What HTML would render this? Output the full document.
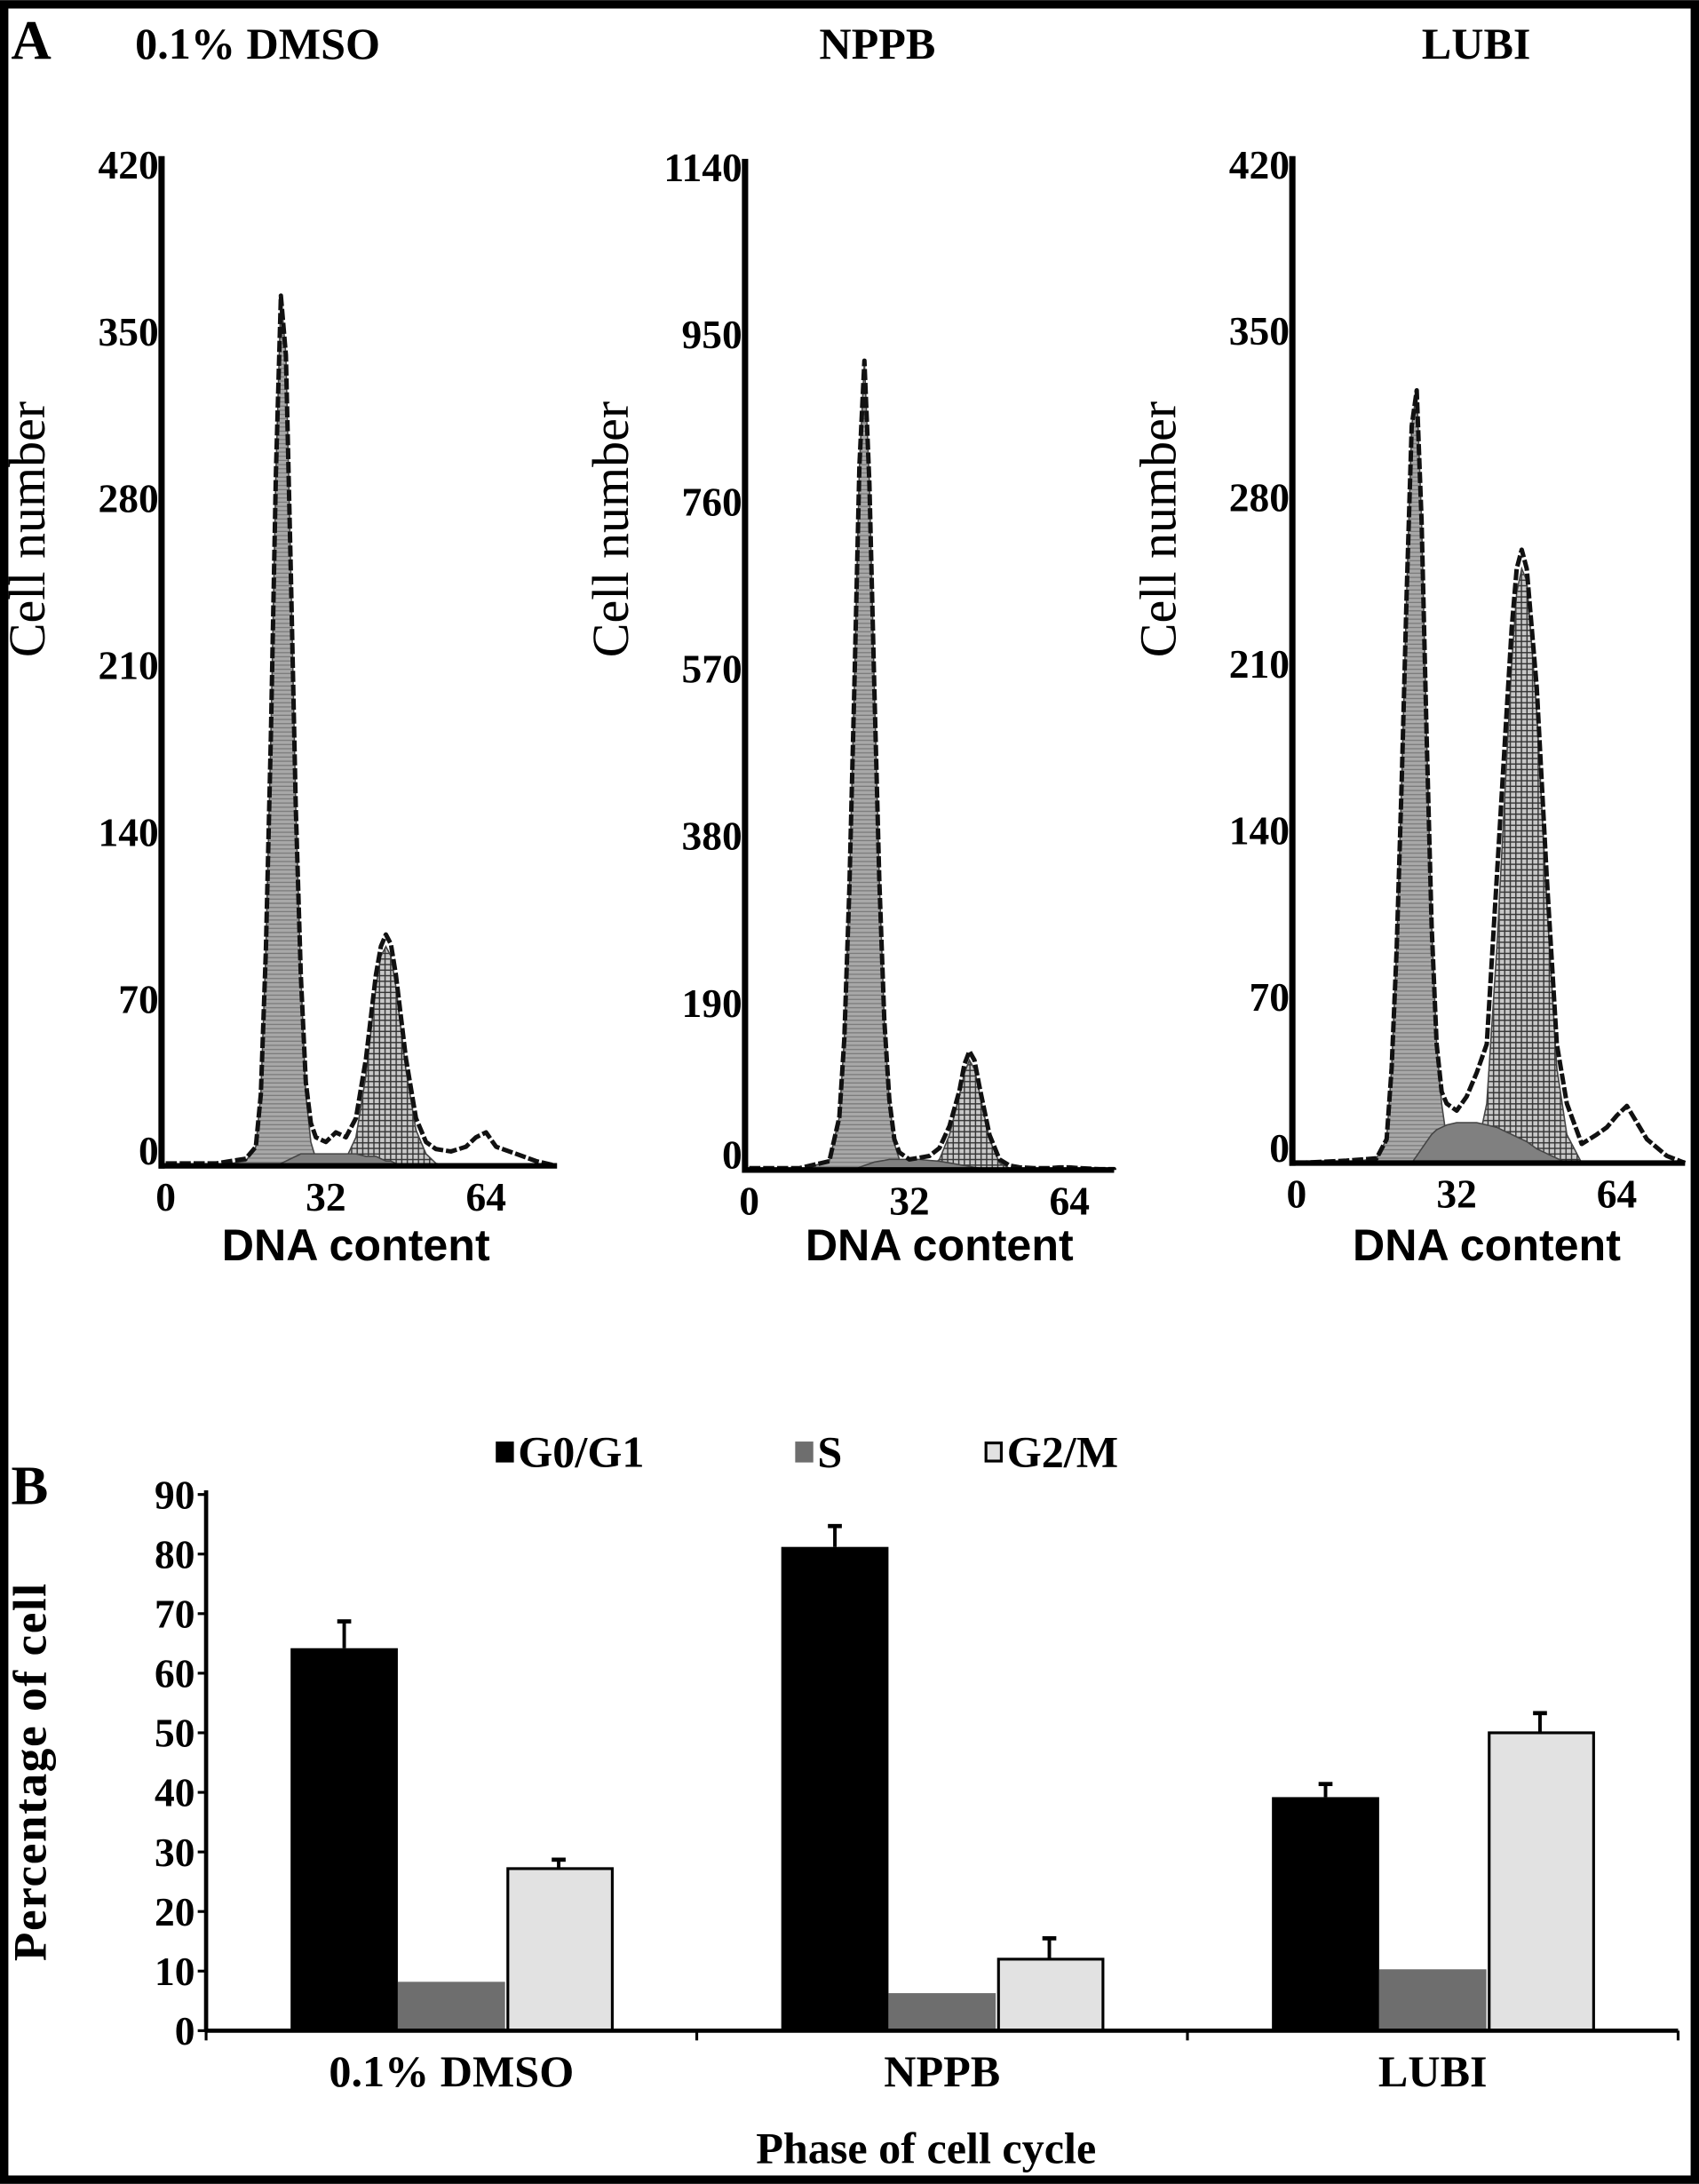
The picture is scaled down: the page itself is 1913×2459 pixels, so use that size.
<!DOCTYPE html>
<html><head><meta charset="utf-8"><style>
html,body{margin:0;padding:0;background:#fff;}
svg{display:block;font-family:"Liberation Serif",serif;}
</style></head><body>
<svg id="fig" width="1913" height="2459" viewBox="0 0 1220 1568" xmlns="http://www.w3.org/2000/svg">
<defs>
<pattern id="g1pat" width="4" height="3" patternUnits="userSpaceOnUse"><rect width="4" height="3" fill="#a8a8a8"/><line x1="0" y1="0.5" x2="4" y2="0.5" stroke="#7a7a7a" stroke-width="0.8"/></pattern>
<pattern id="g2pat" width="4" height="4" patternUnits="userSpaceOnUse"><rect width="4" height="4" fill="#c8c8c8"/><line x1="0" y1="0.5" x2="4" y2="0.5" stroke="#333" stroke-width="0.9"/><line x1="0.5" y1="0" x2="0.5" y2="4" stroke="#333" stroke-width="0.9"/></pattern>
</defs>
<rect x="3" y="3" width="1214" height="1562" fill="#fff" stroke="#000" stroke-width="6"/>
<text x="8" y="42" font-size="40" font-weight="bold">A</text>
<text x="8" y="1080" font-size="40" font-weight="bold">B</text>
<g id="histos"></g>
<g id="bars"></g>
</svg>
<script>
const NS="http://www.w3.org/2000/svg";
// ---- Panel A data ----
const dnaX=[0,10,16,18,19,20,21,22,23,24,25,26,27,28,29,30,32,34,36,38,40,42,43,44,45,46,48,50,52,54,57,60,62,64,66,70,74,78];
const histTitles=["0.1% DMSO","NPPB","LUBI"];
const yMaxes=[420,1140,420];
const yTicks0=[0,70,140,210,280,350,420];
const yTicks1=[0,190,380,570,760,950,1140];
const yTicks2=[0,70,140,210,280,350,420];
const xTicks=[0,32,64];
const dmsoTotal=[1,1,3,8,30,90,180,290,365,340,250,150,80,35,18,12,10,14,12,20,45,80,92,97,93,80,45,20,10,7,6,8,12,14,8,5,2,0];
const dmsoG1=[0,0,2,8,30,90,180,290,365,340,250,150,80,30,10,3,0,0,0,0,0,0,0,0,0,0,0,0,0,0,0,0,0,0,0,0,0,0];
const dmsoS=[0,0,0,0,0,0,0,0,1,2,3,4,5,5,5,5,5,5,5,5,4,4,3,2,2,1,0,0,0,0,0,0,0,0,0,0,0,0];
const dmsoG2=[0,0,0,0,0,0,0,0,0,0,0,0,0,0,0,0,0,0,3,12,38,75,88,92,88,75,40,15,5,1,0,0,0,0,0,0,0,0];
const nppbTotal=[2,2,10,60,150,320,550,800,920,780,550,330,170,80,35,20,12,14,16,25,50,90,120,135,125,95,40,12,5,3,2,2,3,3,2,1,1,0];
const nppbG1=[0,0,10,60,150,320,550,800,920,780,550,330,170,78,30,12,0,0,0,0,0,0,0,0,0,0,0,0,0,0,0,0,0,0,0,0,0,0];
const nppbS=[0,0,0,0,0,0,0,3,5,7,9,10,11,12,12,12,12,12,11,10,8,6,5,4,3,2,1,0,0,0,0,0,0,0,0,0,0,0];
const nppbG2=[0,0,0,0,0,0,0,0,0,0,0,0,0,0,0,0,0,0,2,12,40,85,110,125,115,88,35,8,2,0,0,0,0,0,0,0,0,0];
const lubiTotal=[0,1,2,10,40,90,160,240,310,325,270,180,100,50,30,25,22,28,38,50,120,190,225,250,258,250,200,120,50,25,8,12,15,20,24,10,3,0];
const lubiG1=[0,0,2,10,40,90,160,240,310,325,270,180,100,50,25,10,3,0,0,0,0,0,0,0,0,0,0,0,0,0,0,0,0,0,0,0,0,0];
const lubiS=[0,0,0,0,0,0,0,0,0,3,6,9,12,14,15,16,17,17,17,16,15,13,12,11,10,9,6,4,2,0,0,0,0,0,0,0,0,0];
const lubiG2=[0,0,0,0,0,0,0,0,0,0,0,0,0,0,0,0,0,0,5,25,90,170,210,240,250,245,190,110,40,12,0,0,0,0,0,0,0,0];

const panels=[
 {ax:116,base:837,top:118,titleX:185,tick:yTicks0,tot:dmsoTotal,g1:dmsoG1,s:dmsoS,g2:dmsoG2,xEnd:400},
 {ax:535,base:840,top:120,titleX:630,tick:yTicks1,tot:nppbTotal,g1:nppbG1,s:nppbS,g2:nppbG2,xEnd:800},
 {ax:928,base:835,top:118,titleX:1060,tick:yTicks2,tot:lubiTotal,g1:lubiG1,s:lubiS,g2:lubiG2,xEnd:1210}
];
function mk(tag,attrs,parent,txt){const e=document.createElementNS(NS,tag);for(const k in attrs)e.setAttribute(k,attrs[k]);if(txt!==undefined)e.textContent=txt;parent.appendChild(e);return e;}
const H=document.getElementById('histos');
panels.forEach((p,i)=>{
 const g=mk('g',{},H);
 
 
 const x0=p.ax+3, xs=115/32;
 const X=u=>Math.min(x0+u*xs,p.xEnd);
 const Y=v=>p.base-(v/yMaxes[i])*(p.base-p.top);
 const t=mk('text',{x:p.titleX,y:42,'font-size':32,'font-weight':'bold','text-anchor':'middle'},g,histTitles[i]);
 
 
 function area(arr,fill,name){
  let d='M'+X(dnaX[0])+','+p.base;
  arr.forEach((v,k)=>{d+=' L'+X(dnaX[k]).toFixed(1)+','+Y(v).toFixed(1);});
  d+=' L'+X(dnaX[dnaX.length-1])+','+p.base+' Z';
  const e=mk('path',{d:d,fill:fill,stroke:'#444','stroke-width':1},g);
  
  
 }
 area(p.g1,'url(#g1pat)','g0-g1-fill');
 area(p.g2,'url(#g2pat)','g2-m-fill');
 area(p.s,'#808080','s-phase-fill');
 let d='';
 p.tot.forEach((v,k)=>{d+=(k?' L':'M')+X(dnaX[k]).toFixed(1)+','+Y(v).toFixed(1);});
 const c=mk('path',{d:d,fill:'none',stroke:'#111','stroke-width':3.2,'stroke-dasharray':'8 2','stroke-linejoin':'round'},g);
 
 
 const ya=mk('line',{x1:p.ax,y1:p.top-6,x2:p.ax,y2:p.base+2,stroke:'#000','stroke-width':4.5},g);
 
 
 const xa=mk('line',{x1:p.ax-2,y1:p.base,x2:p.xEnd,y2:p.base,stroke:'#000','stroke-width':4},g);
 
 
 p.tick.forEach(v=>{
  const ty=(v===0)?p.base-11:Y(v);
  const tl=mk('text',{x:p.ax-2,y:ty+10,'font-size':29,'font-weight':'bold','text-anchor':'end'},g,String(v));
  
  
 });
 xTicks.forEach(u=>{
  const tl=mk('text',{x:X(u),y:p.base+32,'font-size':29,'font-weight':'bold','text-anchor':'middle'},g,String(u));
  
  
 });
 const xt=mk('text',{x:X(38),y:905,'font-size':32,'font-weight':'bold','text-anchor':'middle','font-family':'Liberation Sans, sans-serif'},g,'DNA content');
 
 
 const cx=p.ax-84, cy=380;
 const yt=mk('text',{x:cx,y:cy,'font-size':37,'text-anchor':'middle',transform:'rotate(-90 '+cx+' '+cy+')','font-family':'Liberation Serif, serif'},g,'Cell number');
 
 
});

// ---- Panel B data ----
const groups=["0.1% DMSO","NPPB","LUBI"];
const phases=["G0/G1","S","G2/M"];
const g1Vals=[64.2,81.2,39.2];
const sVals=[8.2,6.3,10.3];
const g2Vals=[27.2,12.0,50.0];
const g1Err=[4.5,3.5,2.2];
const sErr=[0,0,0];
const g2Err=[1.5,3.5,3.3];
const barTicks=[0,10,20,30,40,50,60,70,80,90];
const B=document.getElementById('bars');
const bx0=148,bx1=1205,bBase=1458,bTop=1073;
const BY=v=>bBase-v/90*(bBase-bTop);
const groupW=(bx1-bx0)/3, bw=77;
const series=[{v:g1Vals,e:g1Err,fill:'#000',stroke:'#000',name:'bar-g0-g1'},{v:sVals,e:sErr,fill:'#6e6e6e',stroke:'#6e6e6e',name:'bar-s'},{v:g2Vals,e:g2Err,fill:'#e2e2e2',stroke:'#000',name:'bar-g2-m'}];
series.forEach((s,si)=>{
 s.v.forEach((v,gi)=>{
  const cx=bx0+groupW*(gi+0.5);
  const x=cx-1.5*bw+si*bw;
  const r=mk('rect',{x:x+(si===2?2:0),y:BY(v),width:bw-(si===2?2:0),height:bBase-BY(v),fill:s.fill,stroke:s.stroke,'stroke-width':si===2?2:0},B);
  
  
  if(s.e[gi]>0){
   const mx=x+bw/2;
   const el=mk('line',{x1:mx,y1:BY(v),x2:mx,y2:BY(v+s.e[gi]),stroke:'#000','stroke-width':2.5},B);
   
   
   const ec=mk('line',{x1:mx-5,y1:BY(v+s.e[gi]),x2:mx+5,y2:BY(v+s.e[gi]),stroke:'#000','stroke-width':3},B);
   
   
  }
 });
});
const bya=mk('line',{x1:bx0,y1:bTop-3,x2:bx0,y2:bBase+1,stroke:'#000','stroke-width':3},B);


const bxa=mk('line',{x1:bx0,y1:bBase,x2:bx1,y2:bBase,stroke:'#000','stroke-width':3},B);


[0,1,2,3].forEach(k=>{
 const tk=mk('line',{x1:bx0+groupW*k,y1:bBase,x2:bx0+groupW*k,y2:bBase+7,stroke:'#000','stroke-width':2},B);
 
 
});
barTicks.forEach(v=>{
 const tk=mk('line',{x1:bx0-6,y1:BY(v),x2:bx0,y2:BY(v),stroke:'#000','stroke-width':2},B);
 
 
 const tl=mk('text',{x:bx0-8,y:BY(v)+10,'font-size':29,'font-weight':'bold','text-anchor':'end'},B,String(v));
 
 
});
groups.forEach((gname,gi)=>{
 const tl=mk('text',{x:bx0+groupW*(gi+0.5),y:1498,'font-size':32,'font-weight':'bold','text-anchor':'middle'},B,gname);
 
 
});
const bxt=mk('text',{x:665,y:1553,'font-size':32,'font-weight':'bold','text-anchor':'middle'},B,'Phase of cell cycle');


const byt=mk('text',{x:33,y:1272,'font-size':34,'font-weight':'bold','text-anchor':'middle',transform:'rotate(-90 33 1272)','letter-spacing':'1'},B,'Percentage of cell');


const legX=[357,572,708];
phases.forEach((ph,k)=>{
 const sw=mk('rect',{x:legX[k],y:1036,width:11,height:13,fill:series[k].fill,stroke:k===2?'#000':series[k].fill,'stroke-width':2},B);
 
 
 const lt=mk('text',{x:legX[k]+15,y:1053,'font-size':32,'font-weight':'bold'},B,ph);
 
 
});
</script>
</body></html>
